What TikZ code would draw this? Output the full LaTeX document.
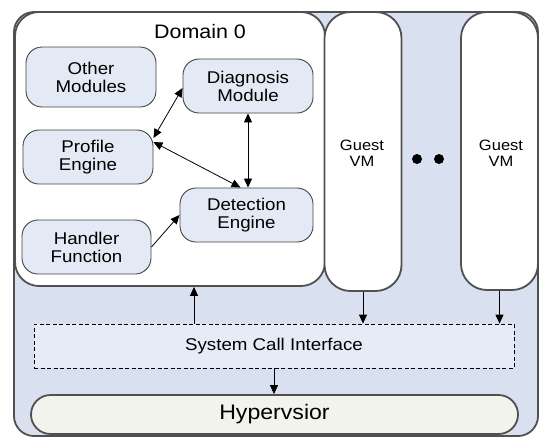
\documentclass[tikz,border=0pt]{standalone}
\usepackage{fontspec}
\setmainfont{Liberation Sans}[FakeStretch=1.1]
\usetikzlibrary{arrows.meta}

\definecolor{hostfill}{HTML}{D9E1F1}
\definecolor{modfill}{HTML}{E3E9F5}
\definecolor{scifill}{HTML}{E6ECF7}
\definecolor{hypfill}{HTML}{F1F3EC}
\definecolor{edge}{HTML}{505050}

\tikzset{
  frame/.style={draw=edge, line width=1.8pt, inner sep=0pt},
  module/.style={draw=edge!85!black, line width=0.9pt, fill=modfill,
    rounded corners=16pt, minimum height=54pt, align=center, inner sep=0pt,
    font=\fontsize{17}{18}\selectfont},
  vm/.style={frame, fill=white, rounded corners=26pt, minimum width=77pt,
    align=center, font=\fontsize{15}{16}\selectfont},
  tip/.tip={Triangle[length=9pt,width=8pt]},
  arr/.style={-tip, line width=0.8pt},
  biarr/.style={tip-tip, line width=0.8pt},
  dot/.style={circle, fill=black, minimum size=10pt, inner sep=0pt}
}

\begin{document}
\begin{tikzpicture}[x=1pt,y=-1pt]
\useasboundingbox (0,0) rectangle (540,437);

% host machine and its domains
\node[frame, fill=hostfill, rounded corners=20pt, minimum width=524pt, minimum height=424pt] (host) at (276,224) {};
\node[frame, fill=white, rounded corners=24pt, minimum width=310pt, minimum height=274pt] (dom) at (170,149) {};
\node[font=\fontsize{19.5}{22}\selectfont] (domlabel) at (200,32) {Domain 0};
\node[vm, minimum height=279pt] (vm1) at (363,151.5) {};
\node[vm, minimum height=278pt] (vm2) at (499.5,151) {};
\node[align=center, font=\fontsize{15}{16}\selectfont] (vm1label) at (362,153.5) {Guest\\VM};
\node[align=center, font=\fontsize{15}{16}\selectfont] (vm2label) at (501,153.5) {Guest\\VM};
\node[dot] (d1) at (417,159) {};
\node[dot] (d2) at (439,159) {};

% modules inside Domain 0
\node[module, minimum width=130pt, minimum height=60pt] (other) at (91,77) {Other\\Modules};
\node[module, minimum width=130pt] (diag) at (248,86) {Diagnosis\\Module};
\node[module, minimum width=130pt] (profile) at (88,157) {Profile\\Engine};
\node[module, minimum width=133pt] (detect) at (246.5,215) {Detection\\Engine};
\node[module, minimum width=129pt] (handler) at (86.5,247) {Handler\\Function};

% system call layer and hypervisor
\node[draw=black, dashed, dash pattern=on 4pt off 2.5pt, line width=0.8pt, fill=scifill,
  minimum width=480pt, minimum height=44pt, font=\fontsize{17}{18}\selectfont] (sci) at (274,346) {System Call Interface};
\node[frame, fill=hypfill, rounded corners=19.5pt, minimum width=487pt, minimum height=39pt,
  font=\fontsize{21}{24}\selectfont] (hyp) at (274.5,414.5) {Hypervsior};

% connections between modules
\draw[biarr] ([yshift=19pt]profile.east) -- ([yshift=-2pt]diag.west);
\draw[biarr] ([yshift=15pt]profile.east) -- ([xshift=-6pt]detect.north);
\draw[biarr] (diag.south) -- (diag.south |- detect.north);
\draw[arr] (handler.east) -- (detect.west);

% connections through the system call layer
\coordinate (domout) at ([xshift=24pt]dom.south);
\draw[arr] (sci.north -| domout) -- (domout);
\draw[arr] (vm1.south) -- (vm1.south |- sci.north);
\draw[arr] (vm2.south) -- (vm2.south |- sci.north);
\draw[arr] (sci.south) -- (sci.south |- hyp.north);
\end{tikzpicture}
\end{document}
